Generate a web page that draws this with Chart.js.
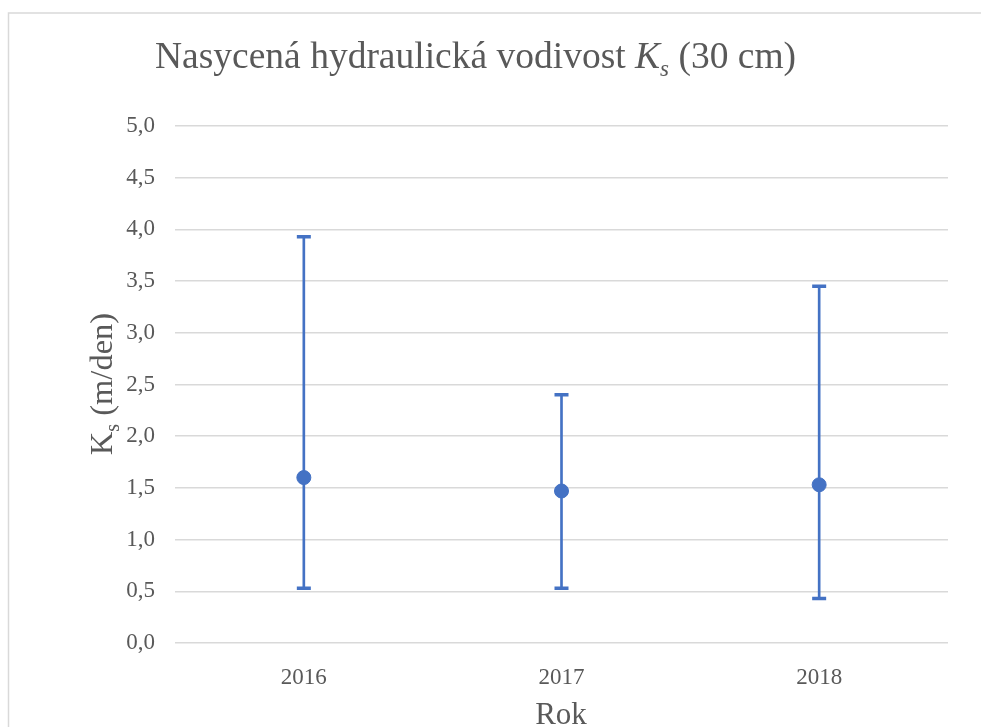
<!DOCTYPE html>
<html>
<head>
<meta charset="utf-8">
<script src="https://cdn.jsdelivr.net/npm/chart.js@4.4.1/dist/chart.umd.min.js"></script>
<style>
  body { margin: 0; background: #fff; }
  #wrap { width: 981px; height: 727px; }
</style>
</head>
<body>
<div id="wrap"><canvas id="myChart" width="981" height="727"></canvas></div>
<script>
// data
const years = ["2016", "2017", "2018"];
const ksMean = [1.60, 1.47, 1.53];
const ksMin = [0.53, 0.53, 0.43];
const ksMax = [3.93, 2.40, 3.45];

const titleParts = [
    { text: "Nasycená hydraulická vodivost ", italic: false, sub: false },
    { text: "K", italic: true, sub: false },
    { text: "s", italic: true, sub: true },
    { text: " (30 cm)", italic: false, sub: false }
];
const yTitleParts = [
    { text: "K", italic: false, sub: false },
    { text: "s", italic: false, sub: true },
    { text: " (m/den)", italic: false, sub: false }
];
const xTitle = "Rok";

const blue = "#4472C4";
const textGrey = "#595959";
const serif = "'Liberation Serif', 'Times New Roman', serif";

function partFont(p, size) {
    let s = p.sub ? Math.round(size * 0.62) : size;
    return (p.italic ? "italic " : "") + s + "px " + serif;
}

// draws mixed-style text; x is the left edge, or the centre if centred is true
function drawParts(ctx, parts, size, x, baseline, centred) {
    if (centred) {
        let total = 0;
        parts.forEach(p => {
            ctx.font = partFont(p, size);
            total += ctx.measureText(p.text).width;
        });
        x -= total / 2;
    }
    parts.forEach(p => {
        ctx.font = partFont(p, size);
        ctx.fillText(p.text, x, baseline + (p.sub ? size * 0.2 : 0));
        x += ctx.measureText(p.text).width;
    });
}

const textPlugin = {
    id: "textPlugin",
    beforeDraw(chart) {
        let ctx = chart.ctx;
        ctx.save();
        ctx.fillStyle = "#fff";
        ctx.fillRect(0, 0, chart.width, chart.height);
        ctx.strokeStyle = "#d9d9d9";
        ctx.lineWidth = 1.5;
        ctx.strokeRect(8.5, 13, 1200, 1200);
        ctx.restore();
    },
    afterDraw(chart) {
        let ctx = chart.ctx;
        ctx.save();
        ctx.fillStyle = textGrey;
        ctx.textAlign = "left";
        ctx.textBaseline = "alphabetic";
        drawParts(ctx, titleParts, 37.5, 155, 68, false);

        ctx.save();
        ctx.translate(112, 384);
        ctx.rotate(-Math.PI / 2);
        drawParts(ctx, yTitleParts, 32.5, 0, 0, true);
        ctx.restore();

        ctx.font = "31px " + serif;
        ctx.textAlign = "center";
        ctx.fillText(xTitle, 561, 724);
        ctx.restore();
    }
};

let myChart = document.getElementById("myChart").getContext("2d");
let ksChart = new Chart(myChart, {
    type: "bar",
    data: {
        labels: years,
        datasets: [{
            type: "line",
            label: "Ks",
            data: ksMean,
            showLine: false,
            pointStyle: "circle",
            pointRadius: 7,
            pointBackgroundColor: blue,
            pointBorderColor: blue,
            order: 0
        }, {
            type: "line",
            label: "max",
            data: ksMax,
            showLine: false,
            pointStyle: "line",
            pointRadius: 7,
            pointBorderWidth: 3.5,
            pointBorderColor: blue,
            order: 1
        }, {
            type: "line",
            label: "min",
            data: ksMin,
            showLine: false,
            pointStyle: "line",
            pointRadius: 7,
            pointBorderWidth: 3.5,
            pointBorderColor: blue,
            order: 1
        }, {
            label: "range",
            data: years.map((y, i) => [ksMin[i], ksMax[i]]),
            backgroundColor: blue,
            barThickness: 2,
            grouped: false,
            order: 2
        }]
    },
    options: {
        responsive: false,
        animation: false,
        layout: {
            padding: { left: 0, top: 126, right: 33, bottom: 0 }
        },
        plugins: {
            legend: { display: false },
            tooltip: { enabled: false },
            title: { display: false }
        },
        scales: {
            x: {
                grid: { display: false },
                border: { display: false },
                ticks: {
                    color: textGrey,
                    padding: 13,
                    font: { family: serif, size: 23 }
                },
                afterFit(scale) { scale.height = 84; }
            },
            y: {
                min: 0,
                max: 5,
                grid: { color: "#d9d9d9", lineWidth: 1.5, drawTicks: false },
                border: { display: false },
                ticks: {
                    stepSize: 0.5,
                    color: textGrey,
                    padding: 20,
                    font: { family: serif, size: 23 },
                    callback: v => v.toFixed(1).replace(".", ",")
                },
                afterFit(scale) { scale.width = 175; }
            }
        }
    },
    plugins: [textPlugin]
});
</script>
</body>
</html>
